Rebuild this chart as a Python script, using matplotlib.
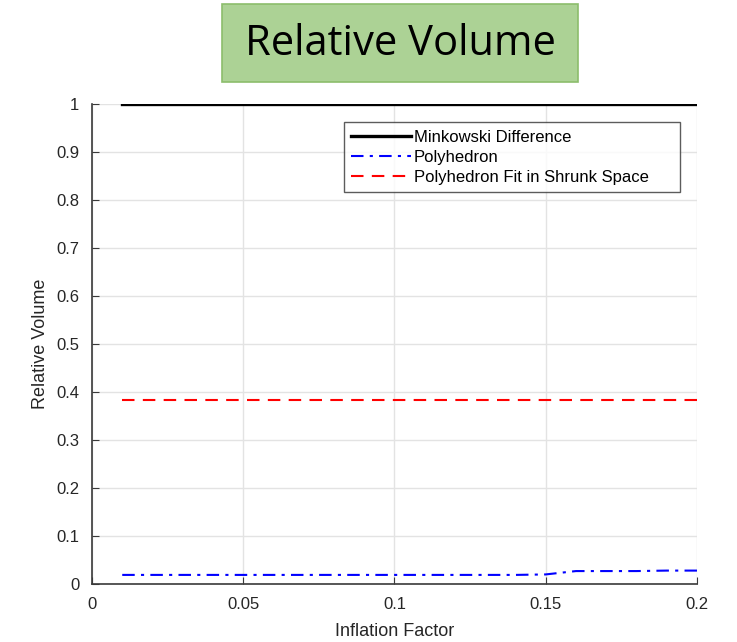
import matplotlib

matplotlib.use("Agg")

import matplotlib.pyplot as plt
from matplotlib.patches import FancyBboxPatch
import numpy as np

inflation = [0.01, 0.02, 0.03, 0.04, 0.05, 0.06, 0.07, 0.08, 0.09, 0.10,
             0.11, 0.12, 0.13, 0.14, 0.15, 0.16, 0.17, 0.18, 0.19, 0.20]
minkowski = [1.0] * 20
polyhedron = [0.019, 0.019, 0.019, 0.019, 0.019, 0.019, 0.019, 0.019, 0.019, 0.019,
              0.019, 0.019, 0.019, 0.019, 0.020, 0.027, 0.027, 0.027, 0.028, 0.028]
shrunk_fit = [0.384] * 20

plt.rcParams["font.family"] = ["Liberation Sans", "DejaVu Sans"]

fig = plt.figure(figsize=(7.37, 6.42), dpi=100)
ax = fig.add_axes([0.1248, 0.0903, 0.8209, 0.7477])

ax.plot(inflation, minkowski, color="black", lw=2.4, label="Minkowski Difference")
ax.plot(inflation, polyhedron, color="blue", lw=1.5, ls=(0, (6, 3, 1.5, 3)), label="Polyhedron")
ax.plot(inflation, shrunk_fit, color="red", lw=1.5, ls=(0, (6, 4)),
        label="Polyhedron Fit in Shrunk Space")

ax.set_xlim(0, 0.2)
ax.set_ylim(0, 1)
ax.set_xticks([0, 0.05, 0.1, 0.15, 0.2])
ax.set_xticklabels(["0", "0.05", "0.1", "0.15", "0.2"])
ax.set_yticks(np.arange(0, 1.01, 0.1))
ax.set_yticklabels(["0", "0.1", "0.2", "0.3", "0.4", "0.5", "0.6", "0.7", "0.8", "0.9", "1"])
ax.grid(color="#e3e3e3", lw=1.0)
ax.set_axisbelow(True)
for side in ("top", "right"):
    ax.spines[side].set_visible(False)
for side in ("left", "bottom"):
    ax.spines[side].set_color("#3a3a3a")
    ax.spines[side].set_linewidth(1.2)
ax.tick_params(direction="in", length=5, color="#3a3a3a", labelsize=12,
               labelcolor="#262626", pad=9)
ax.set_xlabel("Inflation Factor", fontsize=13, color="#262626", labelpad=8)
ax.set_ylabel("Relative Volume", fontsize=13, color="#262626", labelpad=5)

leg = ax.legend(loc="upper left", bbox_to_anchor=(0.4165, 0.8145, 0.5555, 0.148),
                mode="expand", fontsize=12, frameon=True, fancybox=False,
                handlelength=3.6, handletextpad=0.15, borderpad=0.45,
                labelspacing=0.3, borderaxespad=0)
leg.get_frame().set_edgecolor("#333333")
leg.get_frame().set_linewidth(1.0)

# green title box
box = FancyBboxPatch((222 / 737, 1 - 82 / 642), 356 / 737, 78 / 642,
                     boxstyle="square,pad=0", transform=fig.transFigure,
                     facecolor="#acd295", edgecolor="#8cbd6c", lw=1.2)
fig.patches.append(box)
fig.text(400 / 737, 1 - 44 / 642, "Relative Volume", ha="center", va="center",
         fontsize=30, family=["Open Sans", "DejaVu Sans"], color="black")

fig.savefig("out.png", dpi=100)
